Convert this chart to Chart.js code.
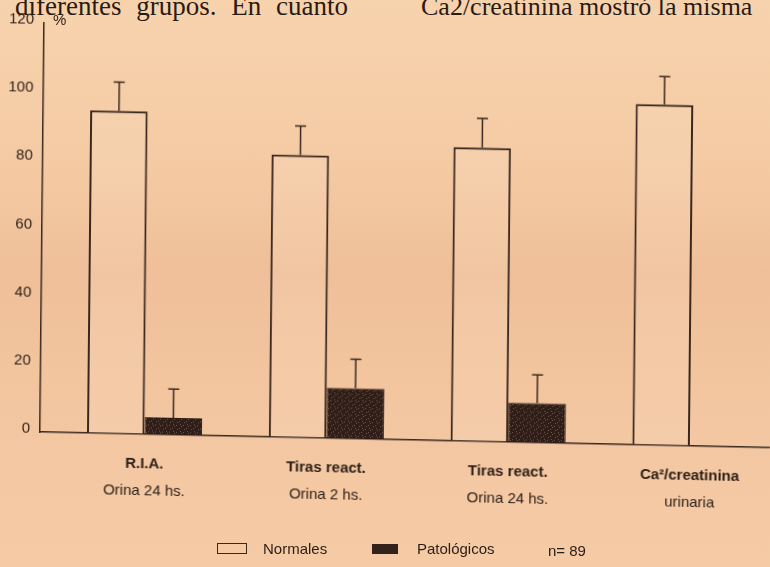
<!DOCTYPE html>
<html>
<head>
<meta charset="utf-8">
<script src="https://cdn.jsdelivr.net/npm/chart.js@4.4.1/dist/chart.umd.min.js"></script>
<style>
  html, body { margin: 0; padding: 0; }
  body {
    width: 770px; height: 567px; overflow: hidden; position: relative;
    background: linear-gradient(180deg, #f7d3ad 0%, #f4caa3 30%, #efbf99 48%, #f2c59f 66%, #f5cba5 100%);
    font-family: 'Liberation Sans', Arial, sans-serif; color: #2b1d17;
  }
  #plot {
    position: absolute; left: 0; top: 0; width: 770px; height: 567px;
    transform-origin: 40px 432px;
    transform: matrix(1, 0.0215, -0.01, 1, 0, 0);
  }
  .body-text {
    position: absolute; top: -7px; font-family: 'Liberation Serif', 'Times New Roman', serif;
    font-size: 27px; line-height: 27px; white-space: nowrap; color: #2a1a14;
  }
  .lbl { position: absolute; font-size: 15px; line-height: 15px; white-space: nowrap; }
  .swatch { position: absolute; box-sizing: border-box; }
</style>
</head>
<body>
<div class="body-text" style="right:422px; word-spacing:8px;">diferentes grupos. En cuanto</div>
<div class="body-text" style="left:421px; font-size:26px;">Ca2/creatinina mostró la misma</div>

<div id="plot"><canvas id="chart" width="770" height="567"></canvas></div>

<div class="lbl" style="left:53px; top:12px;">%</div>

<div class="swatch" style="left:217px; top:543px; width:30px; height:11px; border:1.5px solid #3a281f;"></div>
<div class="lbl" style="left:263px; top:541px;">Normales</div>
<div class="swatch" style="left:372px; top:544px; width:26px; height:10px; background:#33221b;"></div>
<div class="lbl" style="left:417px; top:541px;">Patológicos</div>
<div class="lbl" style="left:548px; top:543px;">n= 89</div>

<script>
// Category labels (two lines per group)
const categoriesTop = ['R.I.A.', 'Tiras react.', 'Tiras react.', 'Ca²/creatinina'];
const categoriesBottom = ['Orina 24 hs.', 'Orina 2 hs.', 'Orina 24 hs.', 'urinaria'];

// Percentages and their standard deviations
const normales = [94.7, 82.9, 86.2, 100];
const normalesDE = [8.4, 8.5, 8.6, 8.2];
const patologicos = [5.0, 14.8, 11.6, null];
const patologicosDE = [8.4, 8.5, 8.3, null];

// Value axis ticks
const yTicks = [0, 20, 40, 60, 80, 100, 120];

const ink = '#3a281f';
const txt = '#2b1d17';
const family = "'Liberation Sans', Arial, sans-serif";
const idx = categoriesTop.map((_, i) => i);

// Dark speckled fill for the "Patológicos" bars
function speckle() {
  const c = document.createElement('canvas');
  c.width = 7; c.height = 7;
  const g = c.getContext('2d');
  g.fillStyle = '#2f1e18';
  g.fillRect(0, 0, 7, 7);
  g.fillStyle = 'rgba(140,110,95,0.75)';
  [[1, 2], [4, 5], [5, 1], [2, 6], [6, 3]].forEach(([a, b]) => g.fillRect(a, b, 1, 1));
  return g.createPattern(c, 'repeat');
}

// Whiskers with a short cap above each bar
const errorBars = {
  id: 'errorBars',
  afterDatasetsDraw(chart) {
    const { ctx } = chart;
    const y = chart.scales.y;
    chart.data.datasets.forEach((ds, di) => {
      const meta = chart.getDatasetMeta(di);
      meta.data.forEach((bar, i) => {
        const v = ds.data[i].y, e = ds.err[i];
        if (v == null || e == null) return;
        const yTop = y.getPixelForValue(v + e);
        ctx.save();
        ctx.strokeStyle = ink;
        ctx.lineWidth = 1.5;
        ctx.beginPath();
        ctx.moveTo(bar.x, bar.y);
        ctx.lineTo(bar.x, yTop);
        ctx.moveTo(bar.x - 5.5, yTop);
        ctx.lineTo(bar.x + 5.5, yTop);
        ctx.stroke();
        ctx.restore();
      });
    });
  }
};

const labelAxis = (labels, bold, pad, h, weight, showBorder) => ({
  type: 'linear', position: 'bottom', min: -0.575, max: 3.44, weight,
  offset: false,
  afterBuildTicks: s => { s.ticks = idx.map(v => ({ value: v })); },
  afterFit: s => { s.height = h; },
  grid: { display: false, drawTicks: false, offset: false },
  border: { display: showBorder, color: ink, width: 1.5 },
  ticks: {
    callback: (v, i) => labels[i],
    font: { family, size: 15, weight: bold ? 'bold' : 'normal' },
    color: txt, padding: pad, maxRotation: 0, autoSkip: false
  }
});

new Chart(document.getElementById('chart'), {
  type: 'bar',
  data: {
    datasets: [
      {
        label: 'Normales',
        data: idx.map(i => ({ x: i, y: normales[i] })),
        err: normalesDE,
        backgroundColor: 'rgba(255,238,218,0.15)',
        borderColor: ink, borderWidth: 2, borderSkipped: 'bottom',
        categoryPercentage: 0.633, barPercentage: 1
      },
      {
        label: 'Patológicos',
        data: idx.map(i => ({ x: i, y: patologicos[i] })),
        err: patologicosDE,
        backgroundColor: speckle(),
        borderColor: '#2c1c16', borderWidth: 1, borderSkipped: 'bottom',
        categoryPercentage: 0.633, barPercentage: 1
      }
    ]
  },
  options: {
    responsive: false, animation: false, devicePixelRatio: 1,
    layout: { padding: { left: 0, right: 0, top: 23, bottom: 68 } },
    plugins: { legend: { display: false }, tooltip: { enabled: false } },
    scales: {
      x: labelAxis(categoriesTop, true, 21, 40, 0, true),
      x2: labelAxis(categoriesBottom, false, 7.5, 27, 1, false),
      y: {
        min: 0, max: 120,
        afterBuildTicks: s => { s.ticks = yTicks.map(v => ({ value: v })); },
        afterFit: s => { s.width = 40; },
        grid: { display: false, drawTicks: false },
        border: { display: true, color: ink, width: 1.5 },
        ticks: { font: { family, size: 15 }, color: txt, padding: 10, labelOffset: -3 }
      }
    }
  },
  plugins: [errorBars]
});
</script>
</body>
</html>
